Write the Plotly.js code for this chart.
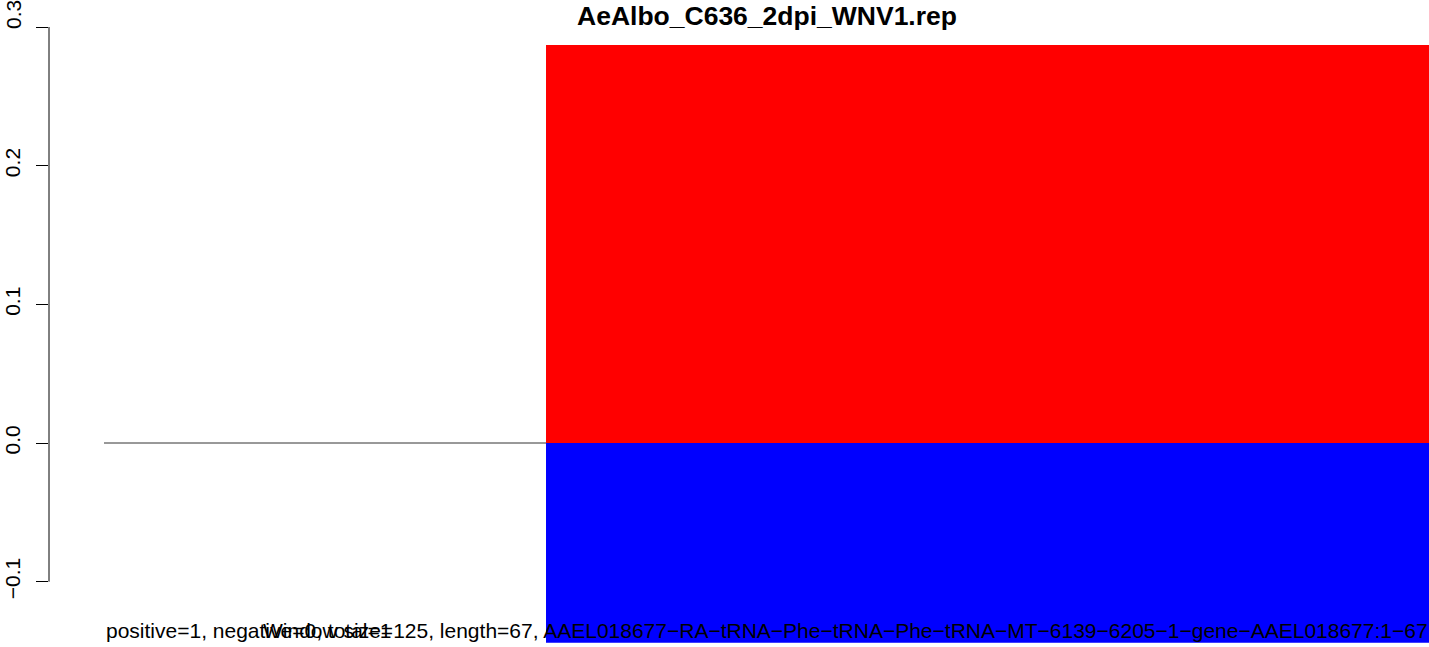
<!DOCTYPE html>
<html>
<head>
<meta charset="utf-8">
<script src="https://cdn.plot.ly/plotly-3.0.1.min.js"></script>
<style>html,body{margin:0;padding:0;background:#fff;}#chart{width:1429px;height:647px;}</style>
</head>
<body>
<div id="chart"></div>
<script>
// ---- data ----
const chartTitle = "AeAlbo_C636_2dpi_WNV1.rep";
const seqStart = 1;          // first position of the window
const barStart = 23;         // position where the signal begins
const barEnd = 67;           // last position (length=67)
const positiveValue = 0.287; // red (positive strand)
const negativeValue = -0.144; // blue (negative strand)
const yTickVals = [-0.1, 0.0, 0.1, 0.2, 0.3];
const yTickText = ["\u22120.1", "0.0", "0.1", "0.2", ""];
const topTickLabel = "0.3";
const countsText = "positive=1, negative=0, total=1";
const infoText = "Window size=125, length=67, AAEL018677\u2212RA\u2212tRNA\u2212Phe\u2212tRNA\u2212Phe\u2212tRNA\u2212MT\u22126139\u22126205\u22121\u2212gene\u2212AAEL018677:1\u221267";

const FONT = "Liberation Sans, Arial, Helvetica, sans-serif";

const traces = [
  {
    type: "scatter", mode: "lines",
    x: [seqStart, barStart], y: [0, 0],
    line: {color: "#333", width: 1},
    hoverinfo: "skip", showlegend: false
  },
  {
    type: "bar",
    x: [(barStart + barEnd) / 2], y: [positiveValue],
    width: [barEnd - barStart], base: 0,
    marker: {color: "#ff0000", line: {width: 0}},
    showlegend: false
  },
  {
    type: "bar",
    x: [(barStart + barEnd) / 2], y: [negativeValue],
    width: [barEnd - barStart], base: 0,
    marker: {color: "#0000ff", line: {width: 0}},
    showlegend: false
  }
];

const layout = {
  width: 1429, height: 647,
  margin: {l: 49, r: 0, t: 0, b: 0, pad: 0},
  paper_bgcolor: "#fff", plot_bgcolor: "#fff",
  barmode: "overlay",
  showlegend: false,
  title: {
    text: chartTitle,
    font: {family: FONT, size: 26.5, color: "#000", weight: "bold"},
    xref: "container", yref: "container",
    x: 767 / 1429, xanchor: "center",
    y: 1 - 16 / 647, yanchor: "middle"
  },
  xaxis: {
    visible: false,
    range: [-1.738, 66.95],
    fixedrange: true
  },
  yaxis: {
    range: [-0.14711, 0.31947],
    showgrid: false, zeroline: false, showline: false,
    ticks: "outside", ticklen: 12, tickwidth: 1, tickcolor: "#000",
    tickmode: "array", tickvals: yTickVals, ticktext: yTickText,
    tickangle: -90,
    ticklabelstandoff: 8,
    tickfont: {family: FONT, size: 21, color: "#000"},
    fixedrange: true
  },
  shapes: [{
    type: "line", xref: "paper", yref: "y",
    x0: 0, x1: 0,
    y0: Math.min(...yTickVals), y1: Math.max(...yTickVals),
    line: {color: "#000", width: 1}
  }],
  annotations: [
    {
      text: topTickLabel, xref: "paper", yref: "paper",
      x: (14 - 49) / 1380, xanchor: "center",
      y: 1 - 15 / 647, yanchor: "middle",
      textangle: -90, showarrow: false,
      font: {family: FONT, size: 21, color: "#000"}
    },
    {
      text: countsText, xref: "paper", yref: "paper",
      x: (104 - 49) / 1380, xanchor: "left",
      y: (647 - 630) / 647, yanchor: "middle",
      showarrow: false,
      font: {family: FONT, size: 21, color: "#000"}
    },
    {
      text: infoText, xref: "paper", yref: "paper",
      x: (261 - 49) / 1380, xanchor: "left",
      y: (647 - 630) / 647, yanchor: "middle",
      showarrow: false,
      font: {family: FONT, size: 21, color: "#000"}
    }
  ]
};

Plotly.newPlot("chart", traces, layout, {displayModeBar: false, staticPlot: true});
</script>
</body>
</html>
